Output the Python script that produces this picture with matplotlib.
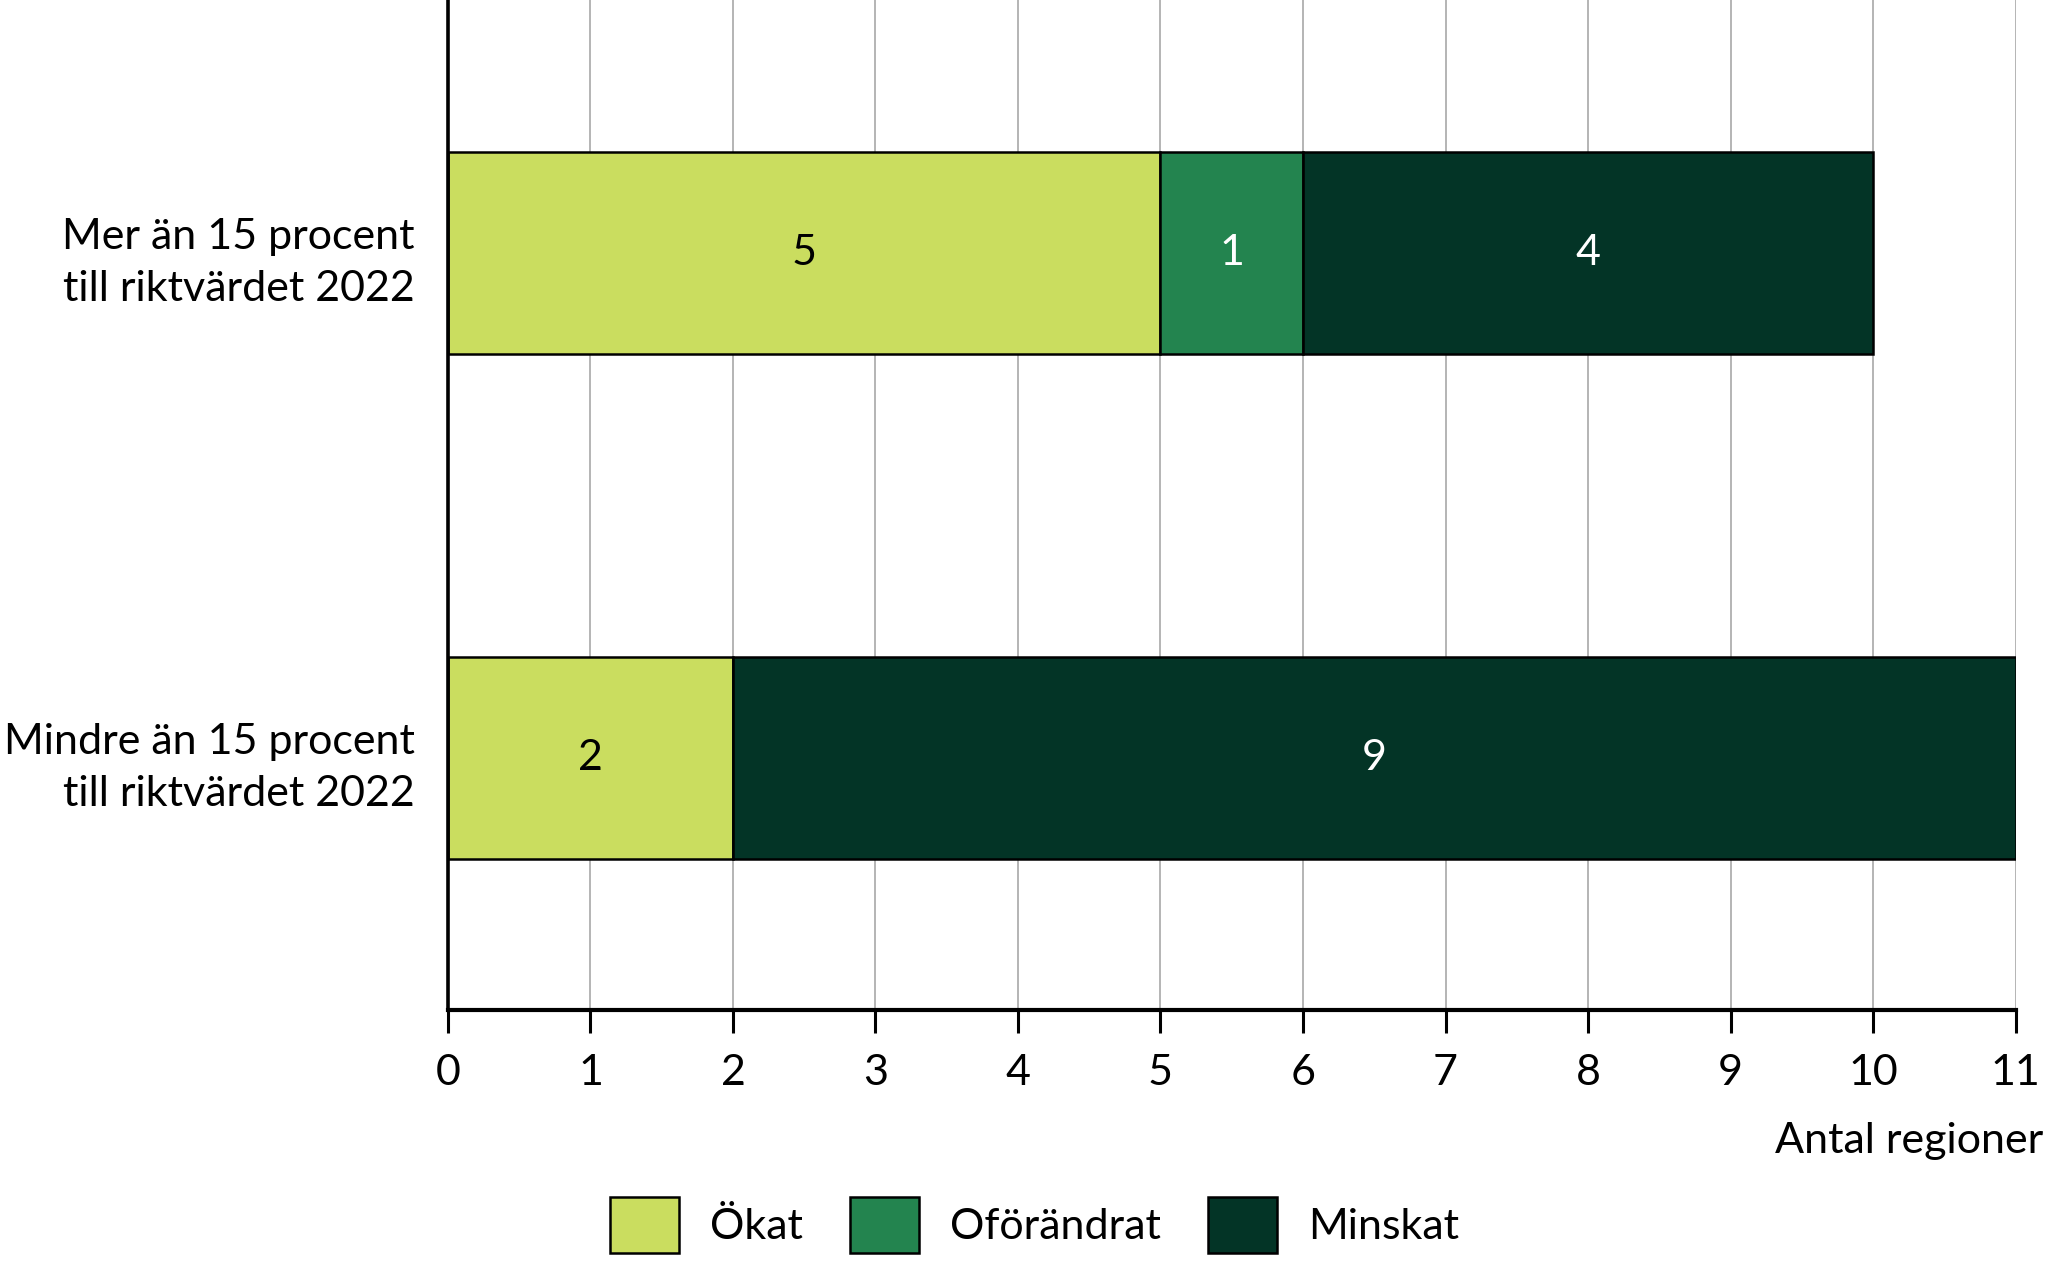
import matplotlib
matplotlib.use("Agg")
import matplotlib.pyplot as plt
from matplotlib.patches import Patch
import numpy as np

plt.rcParams['font.family'] = ['Lato', 'DejaVu Sans']

categories = ["Mer än 15 procent\ntill riktvärdet 2022", "Mindre än 15 procent\ntill riktvärdet 2022"]
series_names = ["Ökat", "Oförändrat", "Minskat"]
okat = [5, 2]
oforandrat = [1, 0]
minskat = [4, 9]
colors = ["#CADD5F", "#23844F", "#033426"]
text_colors = ["black", "white", "white"]
xticks = list(range(0, 12))
xlabel = "Antal regioner"

fig = plt.figure(figsize=(20.49, 12.61), dpi=100)
ax = fig.add_axes([0.2186, 0.1987, 0.7651, 0.8013])

ypos = np.array([1, 0])
left = np.zeros(len(categories))
for name, vals, col, tc in zip(series_names, [okat, oforandrat, minskat], colors, text_colors):
    vals = np.array(vals, dtype=float)
    bars = ax.barh(ypos, vals, left=left, height=0.4, color=col, edgecolor="black",
                   linewidth=1.8, label=name, zorder=3)
    for b, v in zip(bars, vals):
        if v > 0:
            ax.text(b.get_x() + b.get_width() / 2, b.get_y() + b.get_height() / 2, f"{int(v)}",
                    ha="center", va="center", color=tc, fontsize=31, zorder=4)
    left = left + vals

ax.set_xlim(0, 11)
ax.set_ylim(-0.5, 1.5)
ax.set_xticks(xticks)
ax.set_xticklabels([str(t) for t in xticks], fontsize=31)
ax.set_yticks(ypos)
ax.set_yticklabels(categories, fontsize=31, linespacing=1.45)
ax.tick_params(axis="y", length=0, pad=24)
ax.tick_params(axis="x", length=16.5, width=2.2, pad=15, color="black")
ax.grid(axis="x", color="#A0A0A0", linewidth=1.1, zorder=0)
ax.set_axisbelow(True)
for s in ["top", "right"]:
    ax.spines[s].set_visible(False)
ax.spines["left"].set_linewidth(2.6)
ax.spines["bottom"].set_linewidth(3.0)
ax.spines["left"].set_zorder(5)
ax.spines["bottom"].set_zorder(5)

fig.text(0.997, 1 - 1141 / 1261, xlabel, ha="right", va="center", fontsize=31)

handles = [Patch(facecolor=c, edgecolor="black", linewidth=1.8, label=n) for c, n in zip(colors, series_names)]
fig.legend(handles=handles, loc="center", bbox_to_anchor=(0.505, 1 - 1225 / 1261), ncol=3,
           frameon=False, fontsize=31, handlelength=1.6, handleheight=1.6,
           handletextpad=0.72, columnspacing=1.1, borderaxespad=0, borderpad=0)

fig.savefig("out.png", dpi=100)
